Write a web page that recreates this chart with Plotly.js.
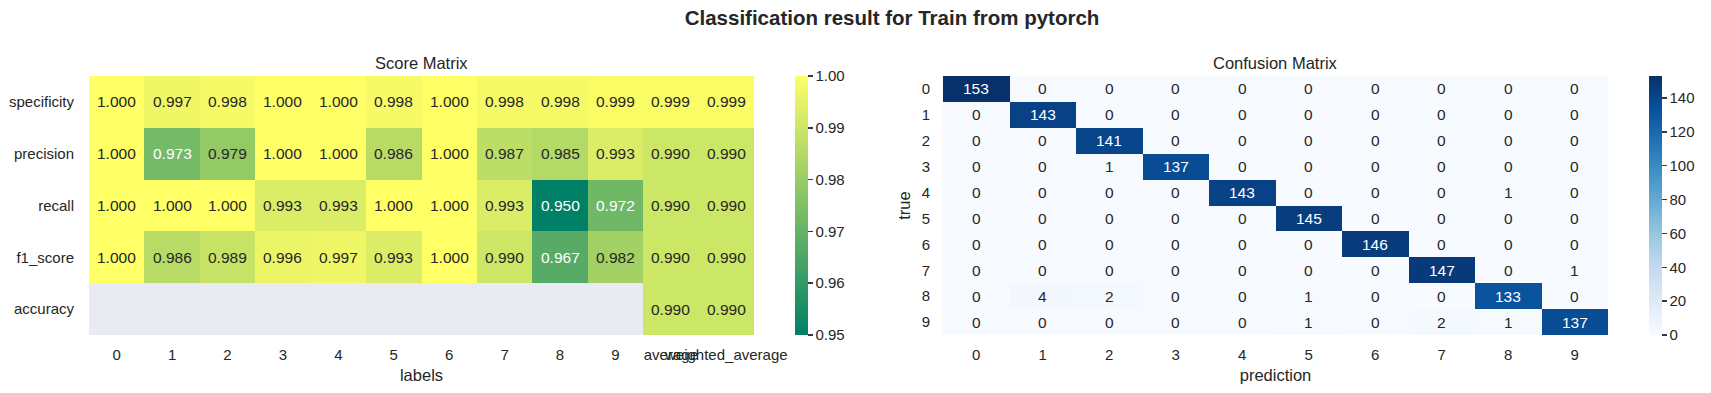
<!DOCTYPE html>
<html>
<head>
<meta charset="utf-8">
<script src="https://cdn.plot.ly/plotly-3.0.1.min.js"></script>
<style>html,body{margin:0;padding:0;background:#fff;}#chart{width:1711px;height:393px;}</style>
</head>
<body>
<div id="chart"></div>
<script>
// ---------- data ----------
const scoreLabels = ['0','1','2','3','4','5','6','7','8','9','average','weighted_average'];
const scoreMetrics = ['specificity','precision','recall','f1_score','accuracy'];
const specificity = [1.000,0.997,0.998,1.000,1.000,0.998,1.000,0.998,0.998,0.999,0.999,0.999];
const precision   = [1.000,0.973,0.979,1.000,1.000,0.986,1.000,0.987,0.985,0.993,0.990,0.990];
const recall      = [1.000,1.000,1.000,0.993,0.993,1.000,1.000,0.993,0.950,0.972,0.990,0.990];
const f1Score     = [1.000,0.986,0.989,0.996,0.997,0.993,1.000,0.990,0.967,0.982,0.990,0.990];
const accuracy    = [null,null,null,null,null,null,null,null,null,null,0.990,0.990];

const classLabels = ['0','1','2','3','4','5','6','7','8','9'];
const cmRow0 = [153,0,0,0,0,0,0,0,0,0];
const cmRow1 = [0,143,0,0,0,0,0,0,0,0];
const cmRow2 = [0,0,141,0,0,0,0,0,0,0];
const cmRow3 = [0,0,1,137,0,0,0,0,0,0];
const cmRow4 = [0,0,0,0,143,0,0,0,1,0];
const cmRow5 = [0,0,0,0,0,145,0,0,0,0];
const cmRow6 = [0,0,0,0,0,0,146,0,0,0];
const cmRow7 = [0,0,0,0,0,0,0,147,0,1];
const cmRow8 = [0,4,2,0,0,1,0,0,133,0];
const cmRow9 = [0,0,0,0,0,1,0,2,1,137];

const scoreZ = [specificity, precision, recall, f1Score, accuracy];
const cmZ = [cmRow0,cmRow1,cmRow2,cmRow3,cmRow4,cmRow5,cmRow6,cmRow7,cmRow8,cmRow9];

// ---------- styling ----------
const FONT = 'Liberation Sans, Arial, Helvetica, sans-serif';
const DARK = '#262626';
const W = 1711, H = 393;
const px = v => v / W, py = v => 1 - v / H;

const summerR = [[0,'rgb(0,128,102)'],[1,'rgb(255,255,102)']];
const blues = [[0,'#f7fbff'],[0.125,'#deebf7'],[0.25,'#c6dbef'],[0.375,'#9ecae1'],[0.5,'#6baed6'],
               [0.625,'#4292c6'],[0.75,'#2171b5'],[0.875,'#08519c'],[1,'#08306b']];

function parseCol(c){
  if (c[0]==='#') return [parseInt(c.substr(1,2),16),parseInt(c.substr(3,2),16),parseInt(c.substr(5,2),16)];
  return c.match(/\d+/g).slice(0,3).map(Number);
}
function colorAt(scale,t){
  t=Math.max(0,Math.min(1,t));
  for(let i=1;i<scale.length;i++){
    if(t<=scale[i][0]){
      const a=parseCol(scale[i-1][1]), b=parseCol(scale[i][1]);
      const f=(t-scale[i-1][0])/(scale[i][0]-scale[i-1][0]);
      return a.map((v,k)=>v+(b[k]-v)*f);
    }
  }
  return parseCol(scale[scale.length-1][1]);
}
function lum(rgb){
  const l = rgb.map(v=>{v/=255;return v<=0.03928?v/12.92:Math.pow((v+0.055)/1.055,2.4);});
  return 0.2126*l[0]+0.7152*l[1]+0.0722*l[2];
}
function textColor(scale,t){ return lum(colorAt(scale,t))>0.408 ? DARK : '#ffffff'; }

const annotations = [];
const sMin=0.95, sMax=1.0, cMin=0, cMax=153;
scoreZ.forEach((row,i)=>row.forEach((v,j)=>{
  if(v===null) return;
  annotations.push({xref:'x',yref:'y',x:scoreLabels[j],y:scoreMetrics[i],text:v.toFixed(3),showarrow:false,
    font:{family:FONT,size:15.5,color:textColor(summerR,(v-sMin)/(sMax-sMin))}});
}));
cmZ.forEach((row,i)=>row.forEach((v,j)=>{
  annotations.push({xref:'x2',yref:'y2',x:classLabels[j],y:classLabels[i],text:String(v),showarrow:false,
    font:{family:FONT,size:15.5,color:textColor(blues,(v-cMin)/(cMax-cMin))}});
}));
// subplot titles
annotations.push({xref:'paper',yref:'paper',x:px(421.5),y:py(63),xanchor:'center',yanchor:'middle',showarrow:false,
  text:'Score Matrix',font:{family:FONT,size:16.5,color:DARK}});
annotations.push({xref:'paper',yref:'paper',x:px(1275.5),y:py(63),xanchor:'center',yanchor:'middle',showarrow:false,
  text:'Confusion Matrix',font:{family:FONT,size:16.5,color:DARK}});

const traces = [
  {type:'heatmap',x:scoreLabels,y:scoreMetrics,z:scoreZ,xaxis:'x',yaxis:'y',
   colorscale:summerR,zmin:sMin,zmax:sMax,hoverinfo:'skip',
   colorbar:{x:px(795),xanchor:'left',xpad:0,ypad:0,y:py(335),yanchor:'bottom',len:259,lenmode:'pixels',
     thickness:13,outlinewidth:0,ticks:'outside',ticklen:5,tickwidth:1.5,tickcolor:'#3a3a3a',
     tick0:0.95,dtick:0.01,tickformat:'.2f',tickfont:{family:FONT,size:15,color:DARK}}},
  {type:'heatmap',x:classLabels,y:classLabels,z:cmZ,xaxis:'x2',yaxis:'y2',
   colorscale:blues,zmin:cMin,zmax:cMax,hoverinfo:'skip',
   colorbar:{x:px(1649),xanchor:'left',xpad:0,ypad:0,y:py(335),yanchor:'bottom',len:259,lenmode:'pixels',
     thickness:13,outlinewidth:0,ticks:'outside',ticklen:5,tickwidth:1.5,tickcolor:'#3a3a3a',
     tick0:0,dtick:20,tickfont:{family:FONT,size:15,color:DARK}}}
];

const axBase = {type:'category',showgrid:false,zeroline:false,showline:false,ticks:'outside',ticklen:6,
  tickcolor:'rgba(0,0,0,0)',tickangle:0,tickfont:{family:FONT,size:15,color:DARK},automargin:false};

const layout = {
  width:W,height:H,margin:{l:0,r:0,t:0,b:0},
  paper_bgcolor:'#ffffff',plot_bgcolor:'#EAEAF2',
  font:{family:FONT,color:DARK},
  title:{text:'<b>Classification result for Train from pytorch</b>',x:px(892),xanchor:'center',
    y:py(18),yanchor:'middle',xref:'paper',yref:'container',font:{family:FONT,size:20.5,color:DARK}},
  xaxis:Object.assign({},axBase,{domain:[px(89),px(754)],anchor:'y',
    title:{text:'labels',standoff:7,font:{family:FONT,size:16.5,color:DARK}}}),
  yaxis:Object.assign({},axBase,{domain:[py(335),py(76)],anchor:'x',autorange:'reversed',ticklen:11}),
  xaxis2:Object.assign({},axBase,{domain:[px(943),px(1608)],anchor:'y2',
    title:{text:'prediction',standoff:7,font:{family:FONT,size:16.5,color:DARK}}}),
  yaxis2:Object.assign({},axBase,{domain:[py(335),py(76)],anchor:'x2',autorange:'reversed',ticklen:9,
    title:{text:'true',standoff:6,font:{family:FONT,size:16.5,color:DARK}}}),
  annotations:annotations,
  showlegend:false
};

Plotly.newPlot('chart',traces,layout,{displayModeBar:false,staticPlot:true});
</script>
</body>
</html>
